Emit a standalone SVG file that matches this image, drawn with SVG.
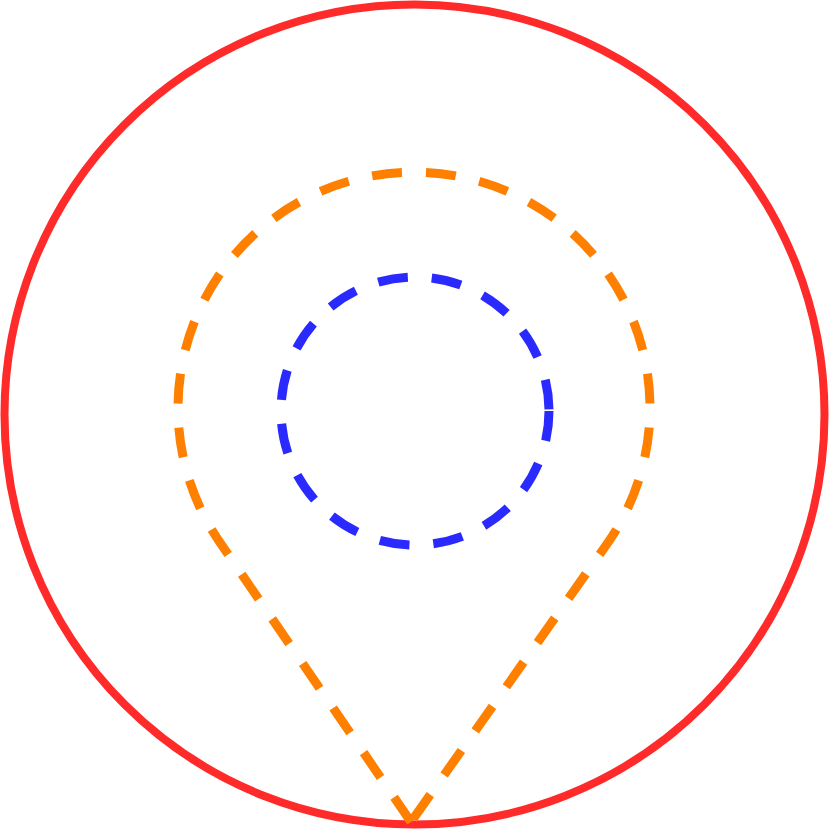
<svg xmlns="http://www.w3.org/2000/svg" width="829" height="829" viewBox="0 0 829 829">
<style>.d{fill:none;stroke-width:9;stroke-dasharray:30 24}</style>
<rect width="829" height="829" fill="#fff"/>
<g id="outer"><circle cx="414.5" cy="414.5" r="410" fill="none" stroke="#ff2a2a" stroke-width="8"/></g>
<g id="pin"><path class="d" stroke="#ff8000" d="M411 822 L220 542.5 A236 236 0 1 1 608 542.5 Z"/></g>
<g id="inner"><circle class="d" stroke="#2a2aff" cx="415" cy="411" r="134"/></g>
</svg>
